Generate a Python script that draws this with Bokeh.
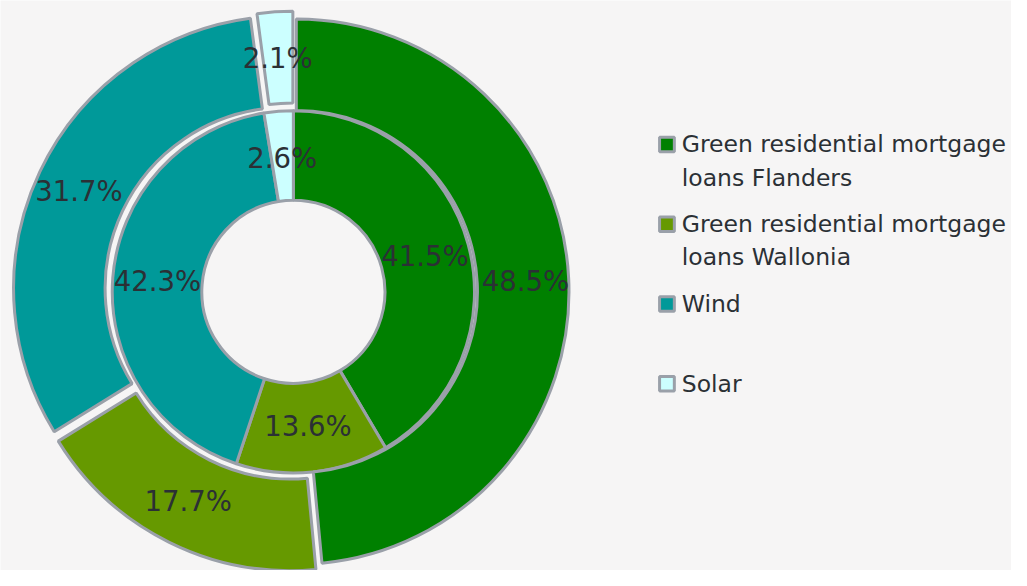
import numpy as np
from bokeh.plotting import figure
from bokeh.models import Range1d, ColumnDataSource
from bokeh.core.properties import value
from bokeh.embed import file_html
from bokeh.resources import INLINE

# ---- data ----
categories = ["Green residential mortgage loans Flanders",
              "Green residential mortgage loans Wallonia",
              "Wind", "Solar"]
legend_lines = [["Green residential mortgage", "loans Flanders"],
                ["Green residential mortgage", "loans Wallonia"],
                ["Wind"],
                ["Solar"]]
outer_values = [48.5, 17.7, 31.7, 2.1]
inner_values = [41.5, 13.6, 42.3, 2.6]

# ---- styles ----
colors = ["#008000", "#669900", "#009999", "#ccffff"]
explode = [3, 7, 8, 8]
edge = "#9aa0a9"
txt = "#2b3035"
bg = "#f6f5f5"
FONT = "DejaVu Sans"

W, H = 1011, 570
CX, CY = 297.5, 286.5
R0, R1, R2 = 93, 184, 277

p = figure(width=W, height=H, output_backend="svg", toolbar_location=None,
           x_range=Range1d(0, 1027), y_range=Range1d(0, 586),
           min_border=0, outline_line_color=None)
p.axis.visible = False
p.grid.visible = False
p.background_fill_color = bg
p.border_fill_color = bg


def ring(values, r_in, r_out, offsets, lab_r):
    v = np.array(values, dtype=float)
    tot = v.sum()
    end = np.cumsum(v) / tot
    start = end - v / tot
    mid = 2 * np.pi * (start + end) / 2
    off = np.array(offsets, dtype=float)
    xs = CX + off * np.sin(mid)
    ys = CY + off * np.cos(mid)
    src = ColumnDataSource(dict(
        x=xs, y=ys,
        sa=np.pi / 2 - 2 * np.pi * end,
        ea=np.pi / 2 - 2 * np.pi * start,
        color=colors,
        lx=xs + lab_r * np.sin(mid),
        ly=ys + lab_r * np.cos(mid),
        lab=[f"{a:.1f}%" for a in v],
    ))
    p.annular_wedge(x="x", y="y", inner_radius=r_in, outer_radius=r_out,
                    start_angle="sa", end_angle="ea", fill_color="color",
                    line_color=edge, line_width=3, source=src)
    return src


s_in = ring(inner_values, R0, R1, [0, 0, 0, 0], (R0 + R1) / 2)
s_out = ring(outer_values, R1, R2, explode, 233)

for s in (s_in, s_out):
    p.text(x="lx", y="ly", text="lab", source=s, text_align="center",
           text_baseline="middle", text_font=value(FONT),
           text_font_size="27.5px", text_color=txt)

# ---- legend ----
LX, LY0, STEP, LH = 677, 586 - 148, 82, 34
sq_y = [LY0 - STEP * i for i in range(len(categories))]
p.rect(x=[LX] * len(categories), y=sq_y, width=15, height=15,
       fill_color=colors, line_color=edge, line_width=3)
tx, ty, tt = [], [], []
for i, lines in enumerate(legend_lines):
    for j, line in enumerate(lines):
        tx.append(LX + 15)
        ty.append(sq_y[i] - LH * j)
        tt.append(line)
p.text(x=tx, y=ty, text=tt, text_align="left", text_baseline="middle",
       text_font=value(FONT), text_font_size="23.5px", text_color=txt)

open("out.html", "w").write(file_html(p, INLINE))
